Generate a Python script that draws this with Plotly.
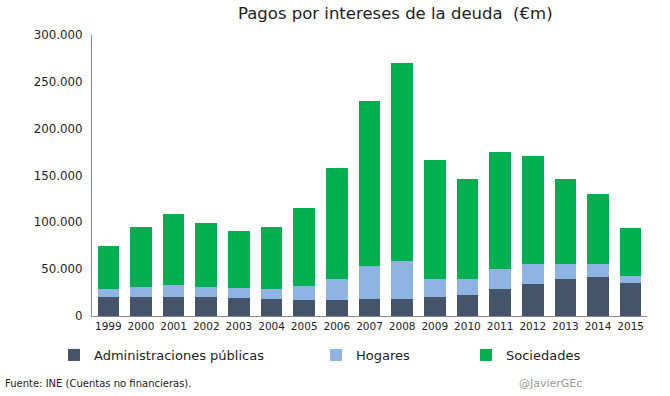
import plotly.graph_objects as go

years = [str(y) for y in range(1999, 2016)]
admin = [20000, 20000, 20000, 20000, 19000, 18000, 17000, 17000, 18000, 18000,
         20000, 22500, 29000, 34000, 39500, 41500, 35000]
hogares = [9000, 11000, 13000, 11000, 11000, 11000, 15000, 22500, 35500, 40500,
           19500, 17000, 21000, 21500, 16000, 14000, 7500]
sociedades = [46000, 64000, 76000, 68000, 61000, 66000, 83000, 118500, 176000, 211500,
              127000, 106500, 125000, 115500, 90500, 74500, 51500]

names = ["Administraciones públicas", "Hogares", "Sociedades"]
colors = ["#44546A", "#8EB4E3", "#00B050"]
series = [admin, hogares, sociedades]
legends = ["legend", "legend2", "legend3"]

FONT = "'DejaVu Sans', sans-serif"

fig = go.Figure()
for name, vals, col, lg in zip(names, series, colors, legends):
    fig.add_trace(go.Bar(x=years, y=vals, name=name, marker_color=col,
                         marker_line_width=0, legend=lg))

W, H = 670, 396
L, R, T, B = 92, 23, 35, 80
pw = W - L - R
ph = H - T - B

def px(x):
    return (x - L) / pw

def py(y):
    return (H - B - y) / ph

legend_common = dict(orientation="h", yanchor="middle", xanchor="left",
                     bgcolor="rgba(0,0,0,0)", font=dict(family=FONT, size=13, color="#222"),
                     itemwidth=30)

fig.update_layout(
    width=W, height=H,
    margin=dict(l=L, r=R, t=T, b=B, autoexpand=False),
    barmode="stack",
    bargap=0.34,
    plot_bgcolor="white",
    paper_bgcolor="white",
    separators=",.",
    font=dict(family=FONT, color="#222"),
    title=dict(text="Pagos por intereses de la deuda  (€m)", x=0.59, xanchor="center",
               y=1 - 13 / H, yanchor="middle", yref="container",
               font=dict(family=FONT, size=16.5, color="#222")),
    xaxis=dict(showline=True, linecolor="#888", linewidth=1, ticks="",
               tickfont=dict(size=10.5, color="#222"), showgrid=False),
    yaxis=dict(range=[0, 300000], dtick=50000, tickformat=",d", showline=True,
               linecolor="#888", linewidth=1, showgrid=False, ticks="",
               ticklabelstandoff=6,
               tickfont=dict(size=11.8, color="#222"), zeroline=False),
    legend=dict(x=px(54), y=py(355), **legend_common),
    legend2=dict(x=px(316), y=py(355), **legend_common),
    legend3=dict(x=px(466), y=py(355), **legend_common),
    showlegend=True,
)

fig.add_annotation(text="Fuente: INE (Cuentas no financieras).", xref="paper", yref="paper",
                   x=px(3), y=py(383), xanchor="left", yanchor="middle", showarrow=False,
                   font=dict(family=FONT, size=10, color="#222"))
fig.add_annotation(text="@JavierGEc", xref="paper", yref="paper",
                   x=px(517), y=py(383), xanchor="left", yanchor="middle", showarrow=False,
                   font=dict(family=FONT, size=11, color="#999"))

fig.write_html("out.html", config={"displayModeBar": False},
               post_script="document.body.style.margin='0';")
